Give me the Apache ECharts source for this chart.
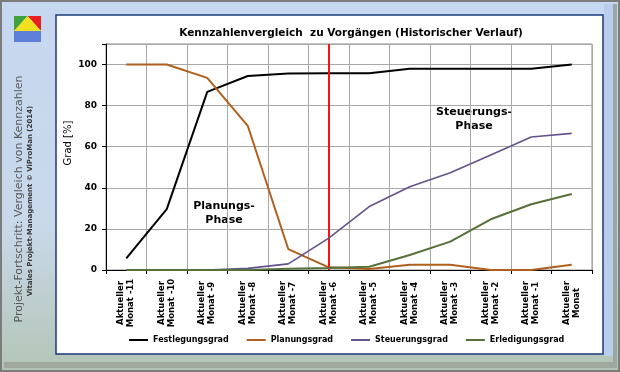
<!DOCTYPE html>
<html><head><meta charset="utf-8">
<script src="https://cdn.jsdelivr.net/npm/echarts@6/dist/echarts.min.js"></script>
<style>html,body{margin:0;padding:0;background:#fff}#c{width:620px;height:372px}</style>
</head><body><div id="c"></div>
<script>
const categories = ['Aktueller Monat -11','Aktueller Monat -10','Aktueller Monat -9','Aktueller Monat -8','Aktueller Monat -7','Aktueller Monat -6','Aktueller Monat -5','Aktueller Monat -4','Aktueller Monat -3','Aktueller Monat -2','Aktueller Monat -1','Aktueller Monat'];
const festlegungsgrad = [5.7, 29.6, 86.7, 94.4, 95.7, 95.8, 95.8, 98, 98, 98, 98, 100];
const planungsgrad = [100, 100, 93.5, 70.2, 10.2, 1.3, 0.5, 2.5, 2.5, 0, 0, 2.5];
const steuerungsgrad = [0, 0, 0, 0.8, 3, 15.5, 30.9, 40.5, 47.3, 56, 64.7, 66.5];
const erledigungsgrad = [0, 0, 0, 0, 0.6, 1, 1.6, 7.3, 13.8, 24.7, 32, 37];
const seriesNames = ['Festlegungsgrad','Planungsgrad','Steuerungsgrad','Erledigungsgrad'];
const seriesColors = ['#000000','#b0601e','#64538c','#56703a'];
const markerCategory = 'Aktueller Monat -6';
const yTicks = [0, 20, 40, 60, 80, 100];

const FONT = 'DejaVu Sans';
const chart = echarts.init(document.getElementById('c'), null, {renderer:'canvas'});
const dataSets = [festlegungsgrad, planungsgrad, steuerungsgrad, erledigungsgrad];
const widths = [2, 2, 1.6, 2];

const series = dataSets.map((d, i) => ({
  name: seriesNames[i], type: 'line', data: d, symbol: 'none', smooth: false,
  lineStyle: {color: seriesColors[i], width: widths[i]}, itemStyle: {color: seriesColors[i]},
  z: 3 + i, animation: false
}));
series[0].markLine = {
  silent: true, symbol: 'none', label: {show: false},
  lineStyle: {color: '#ff1010', width: 2, type: 'solid'},
  data: [{xAxis: markerCategory}], animation: false
};

chart.setOption({
  animation: false,
  backgroundColor: '#ffffff',
  graphic: [
    {type:'rect', z:-10, shape:{x:0,y:0,width:620,height:372},
     style:{fill:new echarts.graphic.LinearGradient(0,0,0,1,[{offset:0,color:'#c6d7f0'},{offset:0.6,color:'#c9d9ea'},{offset:1,color:'#b3c4b5'}]), stroke:'#7c7c7c', lineWidth:4}},
    {type:'rect', z:-9, shape:{x:604,y:4,width:9,height:352}, style:{fill:'#b9cdec'}},
    {type:'rect', z:-9, shape:{x:613,y:4,width:4,height:364}, style:{fill:'#9aa6a0'}},
    {type:'rect', z:-9, shape:{x:4,y:362,width:612,height:6}, style:{fill:'#9ea89c'}},
    {type:'rect', z:-8, shape:{x:56,y:15,width:547,height:339}, style:{fill:'#ffffff', stroke:'#1d3a78', lineWidth:1.5}},
    // logo
    {type:'rect', z:-7, shape:{x:14,y:31,width:27,height:11}, style:{fill:'#5f80d8'}},
    {type:'polygon', z:-7, shape:{points:[[14,16],[27.5,16],[14,31]]}, style:{fill:'#3fa040'}},
    {type:'polygon', z:-7, shape:{points:[[27.5,16],[41,16],[41,31]]}, style:{fill:'#e82020'}},
    {type:'polygon', z:-7, shape:{points:[[27.5,16],[41,31],[14,31]]}, style:{fill:'#f0e020'}},
    {type:'text', z:-7, rotation:Math.PI/2, x:19, y:199,
     style:{text:'Projekt-Fortschritt: Vergleich von Kennzahlen', font:'11px "DejaVu Sans"', fill:'#5a5a5a', align:'center', verticalAlign:'middle'}},
    {type:'text', z:-7, rotation:Math.PI/2, x:30, y:201,
     style:{text:'Vitales Projekt-Management © ViProMan (2014)', font:'bold 7px "DejaVu Sans"', fill:'#3a3a3a', align:'center', verticalAlign:'middle'}},
    {type:'text', rotation:Math.PI/2, x:68, y:143,
     style:{text:'Grad [%]', font:'10px "DejaVu Sans"', fill:'#000', align:'center', verticalAlign:'middle'}},
    {type:'text', x:224, y:213,
     style:{text:'Planungs-\nPhase', font:'bold 11px "DejaVu Sans"', fill:'#000', align:'center', verticalAlign:'middle', lineHeight:14}},
    {type:'text', x:474, y:119,
     style:{text:'Steuerungs-\nPhase', font:'bold 11px "DejaVu Sans"', fill:'#000', align:'center', verticalAlign:'middle', lineHeight:14}}
  ],
  title: {
    text: 'Kennzahlenvergleich  zu Vorgängen (Historischer Verlauf)',
    left: 346, textAlign: 'center', top: 23,
    textStyle: {fontFamily: FONT, fontSize: 10.5, fontWeight: 'bold', color: '#000'}
  },
  legend: {
    data: seriesNames, top: 331, left: 124, itemWidth: 19, itemHeight: 10, itemGap: 18, itemTextGap: 1,
    icon: 'path://M0,4 L19,4 L19,6 L0,6 Z',
    textStyle: {fontFamily: FONT, fontSize: 8, fontWeight: 'bold', color: '#000'}
  },
  grid: {left: 106, right: 28, top: 44, bottom: 102, containLabel: false,
         show: true, borderColor: '#8a8a8a', borderWidth: 1},
  xAxis: {
    type: 'category', data: categories, boundaryGap: true,
    axisLine: {lineStyle: {color: '#000', width: 1}},
    axisTick: {show: true, inside: false, length: 4, alignWithLabel: false, lineStyle: {color: '#000'}},
    splitLine: {show: true, lineStyle: {color: '#a8a8a8', width: 1}},
    axisLabel: {
      interval: 0, rotate: 90, margin: 8, fontFamily: FONT, fontSize: 8.5, fontWeight: 'bold', color: '#000',
      formatter: v => { const p = v.split(' '); return '{a|' + p[0] + '}\n{a|' + p.slice(1).join(' ') + '}'; },
      rich: {a: {fontFamily: FONT, fontSize: 8.5, fontWeight: 'bold', color: '#000', width: 50, align: 'center', lineHeight: 10}}
    }
  },
  yAxis: {
    type: 'value', min: 0, max: 110, interval: 20,
    axisLine: {show: true, lineStyle: {color: '#000', width: 1}},
    axisTick: {show: true, length: 4, lineStyle: {color: '#000'}},
    splitLine: {show: true, lineStyle: {color: '#a8a8a8', width: 1}},
    axisLabel: {margin: 9, fontFamily: FONT, fontSize: 9, fontWeight: 'bold', color: '#000',
      formatter: v => yTicks.indexOf(v) >= 0 ? String(v) : ''}
  },
  series: series
});
</script></body></html>
